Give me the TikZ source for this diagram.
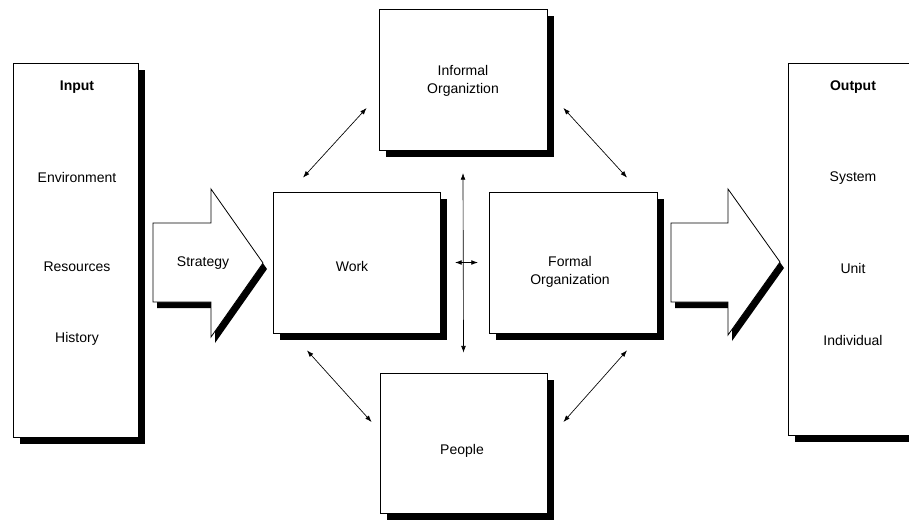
\documentclass[tikz,border=0pt]{standalone}
\usepackage{fontspec}
\setmainfont{Liberation Sans}
\usetikzlibrary{arrows.meta,backgrounds}

\tikzset{
  box/.style={draw, fill=white, line width=0.6pt, inner sep=0pt},
  lbl/.style={inner sep=0.75pt, align=center, font=\fontsize{10.5}{14}\selectfont},
  link/.style={line width=0.5pt, {Latex[length=5pt,width=3.6pt]}-{Latex[length=5pt,width=3.6pt]}},
  bigarrow/.style={draw, fill=white, line width=0.6pt, line join=miter},
}

\begin{document}
\begin{tikzpicture}[x=0.75pt,y=0.75pt,yscale=-1,xscale=1]
\useasboundingbox (0,0) rectangle (909,519);
\clip (0,0) rectangle (909,519);
%Shape: Rectangle [input]
\node[box, minimum width=93.75pt, minimum height=280.5pt] (input) at (75.5,250) {};
%Shape: Rectangle [work]
\node[box, minimum width=125.25pt, minimum height=105.75pt] (work) at (356.5,262.5) {};
%Shape: Rectangle [formal]
\node[box, minimum width=126pt, minimum height=105.75pt] (formal) at (573,262.5) {};
%Shape: Rectangle [informal]
\node[box, minimum width=126pt, minimum height=105.75pt] (informal) at (463,79.5) {};
%Shape: Rectangle [people]
\node[box, minimum width=125.25pt, minimum height=105pt] (people) at (463.5,443) {};
%Shape: Rectangle [output]
\node[box, minimum width=97.5pt, minimum height=279pt] (output) at (853,249) {};

% shadows
\begin{scope}[on background layer]
\fill ([shift={(7,7)}]input.north west) rectangle ([shift={(7,7)}]input.south east);
\fill ([shift={(7,7)}]work.north west) rectangle ([shift={(7,7)}]work.south east);
\fill ([shift={(7,7)}]formal.north west) rectangle ([shift={(7,7)}]formal.south east);
\fill ([shift={(7,7)}]informal.north west) rectangle ([shift={(7,7)}]informal.south east);
\fill ([shift={(7,7)}]people.north west) rectangle ([shift={(7,7)}]people.south east);
\fill ([shift={(7,7)}]output.north west) rectangle ([shift={(7,7)}]output.south east);
\end{scope}

%Shape: Right Arrow [strategy]
\fill[shift={(4,6)}] (153,223) -- (211,223) -- (211,189) -- (263,263) -- (211,337) -- (211,302) -- (153,302) -- cycle;
\draw[bigarrow] (153,223) -- (211,223) -- (211,189) -- (263,263) -- (211,337) -- (211,302) -- (153,302) -- cycle;
%Shape: Right Arrow [result]
\fill[shift={(4,6)}] (671,223) -- (728,223) -- (728,189) -- (780,262) -- (728,335) -- (728,302) -- (671,302) -- cycle;
\draw[bigarrow] (671,223) -- (728,223) -- (728,189) -- (780,262) -- (728,335) -- (728,302) -- (671,302) -- cycle;

% Text Node
\node[lbl] (intitle) at (77,87) {\bfseries Input};
\node[lbl] (inenv) at (77,177) {Environment};
\node[lbl] (inres) at (77,267) {Resources};
\node[lbl] (inhist) at (77,339) {History};
% Text Node
\node[lbl] (strategy) at (203,263) {Strategy};
% Text Node
\node[lbl] (worktxt) at (352,266) {Work};
\node[lbl] (formaltxt) at (570,272) {Formal\\Organization};
\node[lbl] (informaltxt) at (463,81) {Informal\\Organiztion};
\node[lbl] (peopletxt) at (462,451) {People};
% Text Node
\node[lbl] (outtitle) at (853,87) {\bfseries Output};
\node[lbl] (outsys) at (853,178) {System};
\node[lbl] (outunit) at (853,268) {Unit};
\node[lbl] (outind) at (853,340) {Individual};

% connectors
\draw[link] ([yshift=17]informal.south) -- ([yshift=-15]people.north);
\draw[link] ([xshift=11]work.east) -- ([xshift=-8]formal.west);
\draw[link] ([shift={(-12,28.5)}]informal.west) -- ([shift={(-53.5,-14)}]work.north);
\draw[link] ([shift={(16,28.5)}]informal.east) -- ([shift={(54,-14)}]formal.north);
\draw[link] ([shift={(-49.5,17)}]work.south) -- ([shift={(-8,-21)}]people.west);
\draw[link] ([shift={(54,17)}]formal.south) -- ([shift={(16,-21)}]people.east);
\end{tikzpicture}
\end{document}
